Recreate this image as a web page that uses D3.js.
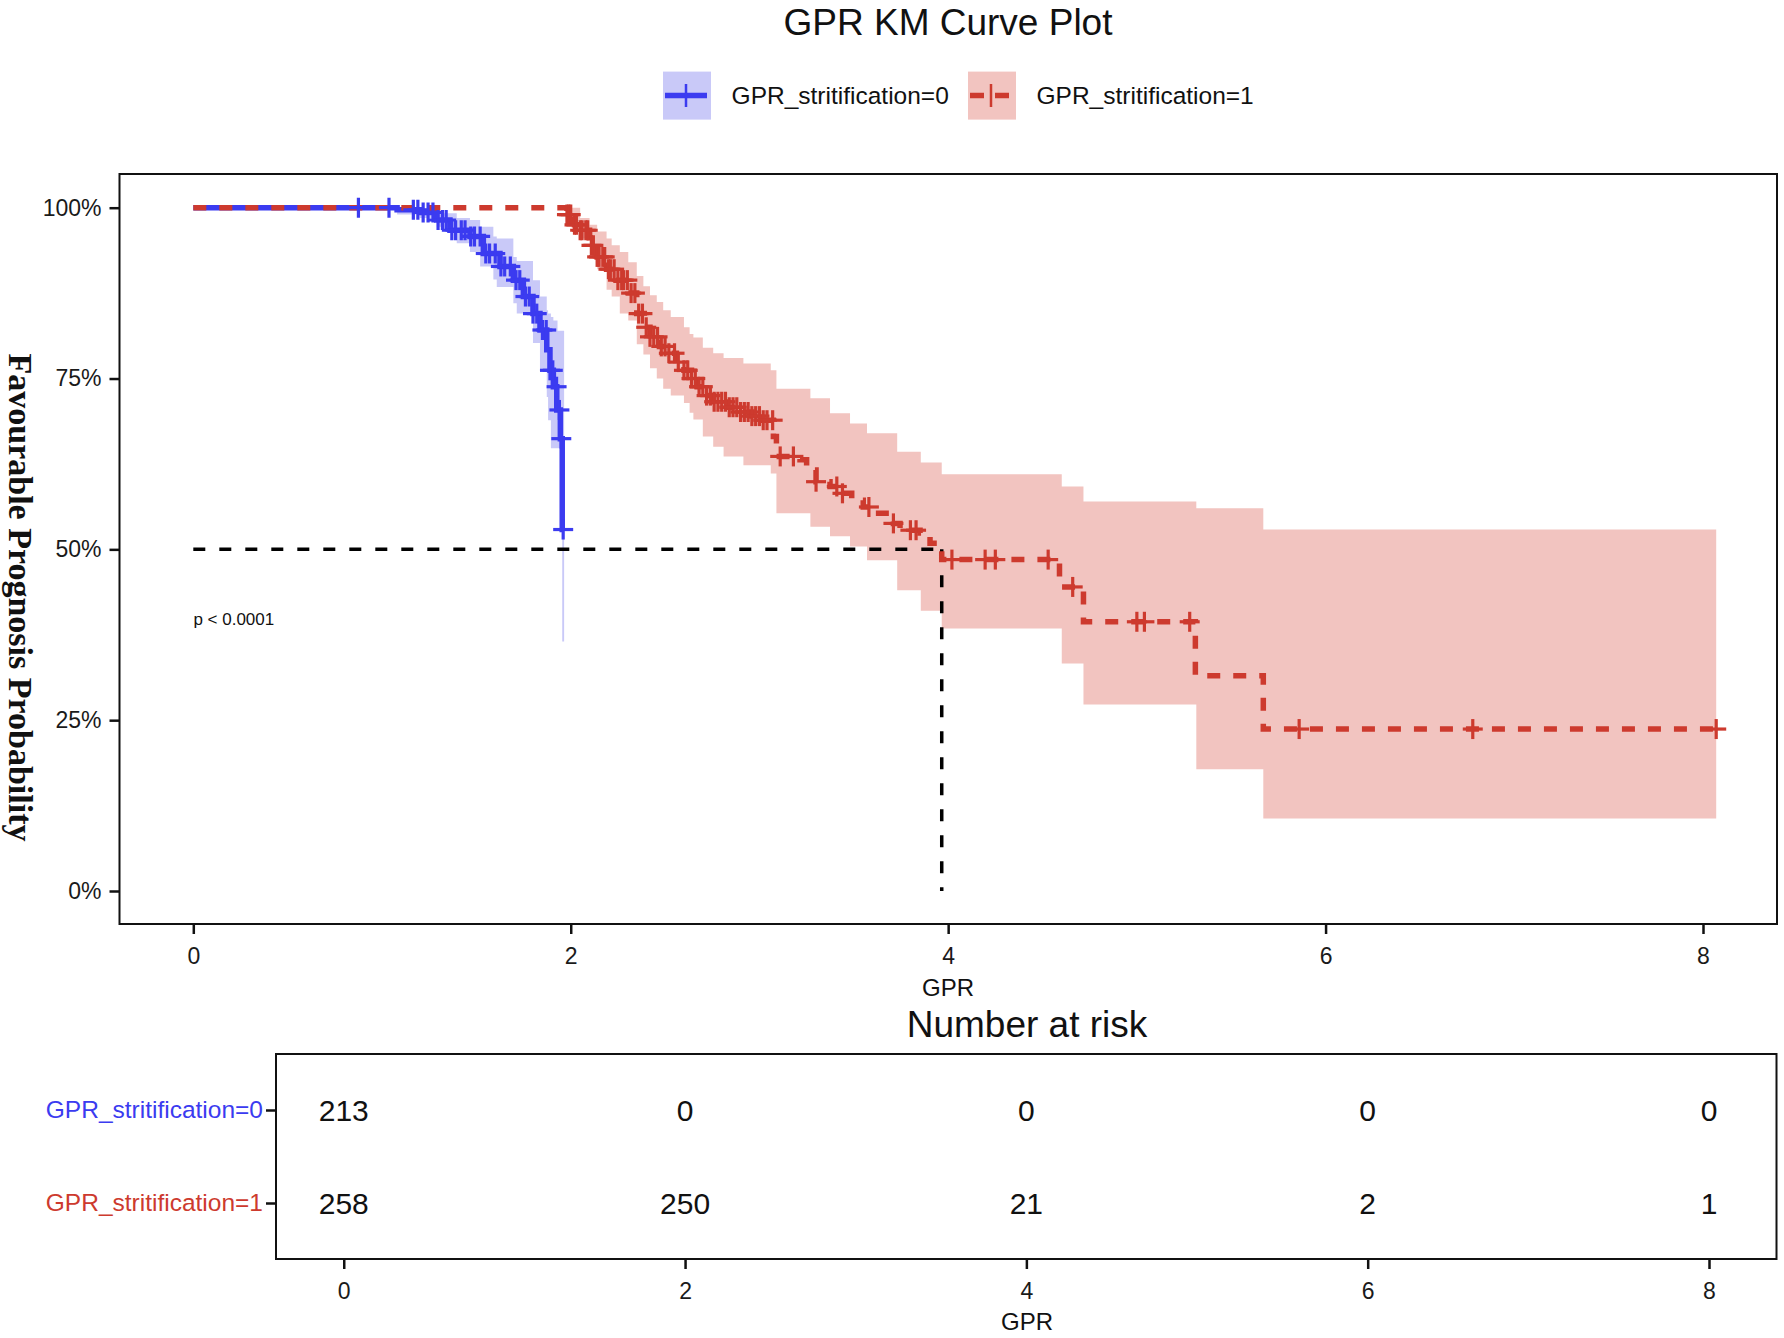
<!DOCTYPE html>
<html lang="en">
<head>
<meta charset="UTF-8">
<title>GPR KM Curve Plot</title>
<script src="https://d3js.org/d3.v7.min.js"></script>
<style>
  body { margin: 0; background: #fff; }
  svg text { font-family: "Liberation Sans", Arial, sans-serif; }
</style>
</head>
<body>
<svg id="chart" width="1784" height="1338"></svg>
<script>
// ---- data ----
const groups = ["GPR_stritification=0", "GPR_stritification=1"];
const xTicks = [0, 2, 4, 6, 8];
const yTicks = [0, 0.25, 0.5, 0.75, 1];

// group 0 (blue) KM steps
const blueTime = [0, 1.08, 1.2, 1.29, 1.36, 1.466, 1.537, 1.625, 1.696, 1.749, 1.80, 1.837, 1.873, 1.89, 1.908, 1.926, 1.945, 1.955];
const blueSurv = [1, 0.997, 0.993, 0.982, 0.967, 0.958, 0.933, 0.914, 0.894, 0.870, 0.845, 0.821, 0.792, 0.762, 0.738, 0.704, 0.662, 0.529];
const blueEnd = 1.962;
const blueCITime = [1.08, 1.2, 1.29, 1.325, 1.396, 1.466, 1.52, 1.59, 1.608, 1.696, 1.714, 1.80, 1.837, 1.873, 1.88, 1.895, 1.908, 1.93, 1.955];
const blueUpper = [1.0, 0.999, 0.995, 0.992, 0.985, 0.982, 0.972, 0.958, 0.955, 0.928, 0.922, 0.894, 0.87, 0.85, 0.845, 0.84, 0.835, 0.82, 0.82];
const blueLower = [0.99, 0.985, 0.972, 0.965, 0.948, 0.935, 0.914, 0.895, 0.884, 0.860, 0.845, 0.802, 0.76, 0.723, 0.689, 0.648, 0.648, 0.648, 0.365];
const blueCIEnd = 1.965;
const blueCensor = [0.875, 1.037, 1.166, 1.19, 1.218, 1.244, 1.27, 1.297, 1.32, 1.34, 1.37, 1.39, 1.42, 1.44, 1.47, 1.49,
  1.52, 1.55, 1.57, 1.6, 1.63, 1.65, 1.68, 1.71, 1.73, 1.76, 1.78, 1.80, 1.82, 1.85, 1.87, 1.89, 1.905, 1.925, 1.94, 1.95, 1.96];

// group 1 (red) KM steps
const redTime = [0, 1.98, 2.02, 2.05, 2.10, 2.14, 2.19, 2.24, 2.305, 2.35, 2.39, 2.42, 2.47, 2.51, 2.56, 2.60, 2.64, 2.67,
  2.72, 2.755, 2.83, 2.90, 2.96, 3.02, 3.074, 3.09, 3.215, 3.25, 3.30, 3.374, 3.43, 3.489, 3.55, 3.604, 3.71, 3.745,
  3.851, 3.904, 3.966, 4.59, 4.717, 5.31, 5.67];
const redSurv = [1, 0.99, 0.975, 0.967, 0.945, 0.928, 0.91, 0.894, 0.875, 0.845, 0.825, 0.811, 0.797, 0.787, 0.774, 0.762,
  0.75, 0.738, 0.725, 0.716, 0.708, 0.701, 0.695, 0.689, 0.665, 0.636, 0.631, 0.616, 0.599, 0.592, 0.582, 0.572, 0.562,
  0.553, 0.538, 0.528, 0.524, 0.509, 0.485, 0.445, 0.394, 0.315, 0.237];
const redEnd = 8.07;
const redCITime = [1.98, 2.05, 2.10, 2.14, 2.19, 2.217, 2.26, 2.305, 2.35, 2.385, 2.42, 2.456, 2.49, 2.53, 2.60, 2.63, 2.65,
  2.70, 2.755, 2.81, 2.915, 3.06, 3.09, 3.27, 3.374, 3.48, 3.57, 3.73, 3.855, 3.966, 4.602, 4.717, 5.315, 5.67];
const redUpper = [1.0, 0.985, 0.975, 0.965, 0.955, 0.945, 0.935, 0.92, 0.9, 0.885, 0.872, 0.862, 0.85, 0.84, 0.825, 0.815,
  0.81, 0.795, 0.787, 0.78, 0.772, 0.762, 0.735, 0.721, 0.699, 0.684, 0.670, 0.643, 0.627, 0.610, 0.592, 0.570, 0.560, 0.529];
const redLower = [0.98, 0.955, 0.93, 0.91, 0.88, 0.87, 0.845, 0.835, 0.80, 0.785, 0.765, 0.75, 0.735, 0.725, 0.714, 0.70,
  0.69, 0.665, 0.650, 0.636, 0.623, 0.611, 0.553, 0.533, 0.519, 0.504, 0.484, 0.440, 0.410, 0.384, 0.333, 0.273, 0.178, 0.106];
const redCensor = [1.98, 1.99, 2.0, 2.02, 2.03, 2.05, 2.06, 2.08, 2.09, 2.11, 2.12, 2.14, 2.15, 2.17, 2.18, 2.2, 2.21, 2.23,
  2.25, 2.27, 2.28, 2.3, 2.32, 2.34, 2.36, 2.38, 2.4, 2.42, 2.44, 2.46, 2.48, 2.5, 2.52, 2.55, 2.57, 2.6, 2.62, 2.64, 2.66,
  2.68, 2.7, 2.72, 2.74, 2.76, 2.78, 2.8, 2.82, 2.84, 2.86, 2.88, 2.9, 2.92, 2.94, 2.96, 2.98, 3.0, 3.02, 3.04, 3.07, 3.11,
  3.18, 3.3, 3.41, 3.44, 3.58, 3.71, 3.8, 3.83, 4.02, 4.196, 4.25, 4.53, 4.66, 5.0, 5.04, 5.28, 5.86, 6.78, 8.07];

const medianTime = 3.966;
const pText = "p < 0.0001";

// number at risk
const riskTimes = [0, 2, 4, 6, 8];
const risk0 = [213, 0, 0, 0, 0];
const risk1 = [258, 250, 21, 2, 1];

// ---- styles ----
const blue = "#3b3bf0", blueFill = "#c9c9f8";
const red = "#cd3a2e", redFill = "#f2c4c0";

const svg = d3.select("#chart");

// main panel
const panel = { left: 119.5, right: 1777, top: 174, bottom: 924 };
const x = d3.scaleLinear().domain([0, 8]).range([193.3, 1703]);
const y = d3.scaleLinear().domain([0, 1]).range([891, 207.7]);

// title
svg.append("text").attr("x", 948).attr("y", 35).attr("text-anchor", "middle")
  .attr("font-size", "37px").attr("fill", "#111").text("GPR KM Curve Plot");

// legend
const legendKeys = [{ x: 663, tx: 731.6, c: blue, f: blueFill, dash: null, name: groups[0] },
                    { x: 968, tx: 1036.5, c: red, f: redFill, dash: "14,11", name: groups[1] }];
const lg = svg.append("g");
legendKeys.forEach(k => {
  lg.append("rect").attr("x", k.x).attr("y", 71.6).attr("width", 48).attr("height", 48).attr("fill", k.f);
  lg.append("line").attr("x1", k.x + 2).attr("x2", k.x + 44).attr("y1", 95.6).attr("y2", 95.6)
    .attr("stroke", k.c).attr("stroke-width", 5.5).attr("stroke-dasharray", k.dash);
  lg.append("line").attr("x1", k.x + 23).attr("x2", k.x + 23).attr("y1", 84).attr("y2", 107)
    .attr("stroke", k.c).attr("stroke-width", 2.5);
  lg.append("text").attr("x", k.tx).attr("y", 95.6).attr("dy", "0.35em")
    .attr("font-size", "24.5px").attr("fill", "#111").text(k.name);
});

// clip for the panel
svg.append("clipPath").attr("id", "clip").append("rect")
  .attr("x", panel.left).attr("y", panel.top)
  .attr("width", panel.right - panel.left).attr("height", panel.bottom - panel.top);
const plot = svg.append("g").attr("clip-path", "url(#clip)");

// step helpers
function stepPoints(times, vals, end) {
  const pts = times.map((t, i) => [t, vals[i]]);
  pts.push([end, vals[vals.length - 1]]);
  return pts;
}
function bandPoints(times, up, lo, end) {
  const pts = times.map((t, i) => [t, up[i], lo[i]]);
  pts.push([end, up[up.length - 1], lo[lo.length - 1]]);
  return pts;
}
function survAt(times, vals, t) {
  const i = d3.bisectRight(times, t) - 1;
  return vals[Math.max(0, i)];
}

const area = d3.area().curve(d3.curveStepAfter)
  .x(d => x(d[0])).y0(d => y(d[2])).y1(d => y(d[1]));
const line = d3.line().curve(d3.curveStepAfter)
  .x(d => x(d[0])).y(d => y(d[1]));

// confidence bands
plot.append("path").datum(bandPoints(redCITime, redUpper, redLower, redEnd))
  .attr("d", area).attr("fill", redFill);
plot.append("path").datum(bandPoints(blueCITime, blueUpper, blueLower, blueCIEnd))
  .attr("d", area).attr("fill", blueFill);

// median lines
plot.append("line").attr("x1", x(0)).attr("x2", x(medianTime)).attr("y1", y(0.5)).attr("y2", y(0.5))
  .attr("stroke", "#000").attr("stroke-width", 3.5).attr("stroke-dasharray", "12,14");
plot.append("line").attr("x1", x(medianTime)).attr("x2", x(medianTime)).attr("y1", y(0.5)).attr("y2", y(0))
  .attr("stroke", "#000").attr("stroke-width", 3.5).attr("stroke-dasharray", "12,14");

// KM curves
plot.append("path").datum(stepPoints(blueTime, blueSurv, blueEnd))
  .attr("d", line).attr("fill", "none").attr("stroke", blue).attr("stroke-width", 5.5);
plot.append("path").datum(stepPoints(redTime, redSurv, redEnd))
  .attr("d", line).attr("fill", "none").attr("stroke", red).attr("stroke-width", 5.5)
  .attr("stroke-dasharray", "13,13");

// censor marks
function drawCensor(times, stepT, stepS, color) {
  const g = plot.append("g").attr("stroke", color).attr("stroke-width", 3.2);
  times.forEach(t => {
    const cx = x(t), cy = y(survAt(stepT, stepS, t));
    g.append("line").attr("x1", cx - 10).attr("x2", cx + 10).attr("y1", cy).attr("y2", cy);
    g.append("line").attr("x1", cx).attr("x2", cx).attr("y1", cy - 10).attr("y2", cy + 10);
  });
}
drawCensor(blueCensor, blueTime, blueSurv, blue);
drawCensor(redCensor, redTime, redSurv, red);

// p value
svg.append("text").attr("x", 193.4).attr("y", 619).attr("dy", "0.35em")
  .attr("font-size", "17px").attr("fill", "#111").text(pText);

// panel border
svg.append("rect").attr("x", panel.left).attr("y", panel.top)
  .attr("width", panel.right - panel.left).attr("height", panel.bottom - panel.top)
  .attr("fill", "none").attr("stroke", "#111").attr("stroke-width", 2);

// axes
const yAxis = svg.append("g").attr("transform", `translate(${panel.left},0)`)
  .call(d3.axisLeft(y).tickValues(yTicks).tickFormat(d3.format(".0%")).tickSize(10).tickPadding(8));
const xAxis = svg.append("g").attr("transform", `translate(0,${panel.bottom})`)
  .call(d3.axisBottom(x).tickValues(xTicks).tickFormat(d3.format("d")).tickSize(10).tickPadding(14));
[yAxis, xAxis].forEach(a => {
  a.select(".domain").remove();
  a.selectAll(".tick line").attr("stroke", "#111").attr("stroke-width", 2.5);
  a.selectAll(".tick text").attr("font-size", "23px").attr("fill", "#1a1a1a")
    .attr("font-family", "'Liberation Sans', Arial, sans-serif");
});

// axis titles
svg.append("text").attr("x", 948).attr("y", 987.6).attr("dy", "0.35em").attr("text-anchor", "middle")
  .attr("font-size", "24px").attr("fill", "#111").text("GPR");
svg.append("text").attr("transform", "translate(20.5,597.5) rotate(90)")
  .attr("text-anchor", "middle").attr("dy", "0.35em")
  .style("font-family", "'Liberation Serif', 'Times New Roman', serif")
  .attr("font-weight", "bold").attr("font-size", "34px").attr("fill", "#111")
  .text("Favourable Prognosis Probability");

// ---- number at risk table ----
const tbl = { left: 276, right: 1776.5, top: 1054, bottom: 1259 };
const xr = d3.scaleLinear().domain([0, 8]).range([343.75, 1709]);
const yr = d3.scalePoint().domain(groups).range([1110, 1203]);

svg.append("text").attr("x", 1027).attr("y", 1024).attr("dy", "0.35em").attr("text-anchor", "middle")
  .attr("font-size", "37px").attr("fill", "#111").text("Number at risk");

svg.append("rect").attr("x", tbl.left).attr("y", tbl.top)
  .attr("width", tbl.right - tbl.left).attr("height", tbl.bottom - tbl.top)
  .attr("fill", "none").attr("stroke", "#111").attr("stroke-width", 2);

const riskRows = [risk0, risk1];
riskRows.forEach((row, gi) => {
  svg.append("g").selectAll("text").data(row).join("text")
    .attr("x", (d, i) => xr(riskTimes[i])).attr("y", yr(groups[gi])).attr("dy", "0.35em")
    .attr("text-anchor", "middle").attr("font-size", "30px").attr("fill", "#111")
    .text(d => d);
});

const ryAxis = svg.append("g").attr("transform", `translate(${tbl.left},0)`)
  .call(d3.axisLeft(yr).tickSize(10).tickPadding(3));
const rxAxis = svg.append("g").attr("transform", `translate(0,${tbl.bottom})`)
  .call(d3.axisBottom(xr).tickValues(riskTimes).tickFormat(d3.format("d")).tickSize(10).tickPadding(14));
[ryAxis, rxAxis].forEach(a => {
  a.select(".domain").remove();
  a.selectAll(".tick line").attr("stroke", "#111").attr("stroke-width", 2.5);
  a.selectAll(".tick text").attr("font-size", "23px").attr("fill", "#1a1a1a")
    .attr("font-family", "'Liberation Sans', Arial, sans-serif");
});
ryAxis.selectAll(".tick text").attr("font-size", "24.5px").attr("fill", (d, i) => i === 0 ? blue : red);

svg.append("text").attr("x", 1027).attr("y", 1322).attr("dy", "0.35em").attr("text-anchor", "middle")
  .attr("font-size", "24px").attr("fill", "#111").text("GPR");
</script>
</body>
</html>
